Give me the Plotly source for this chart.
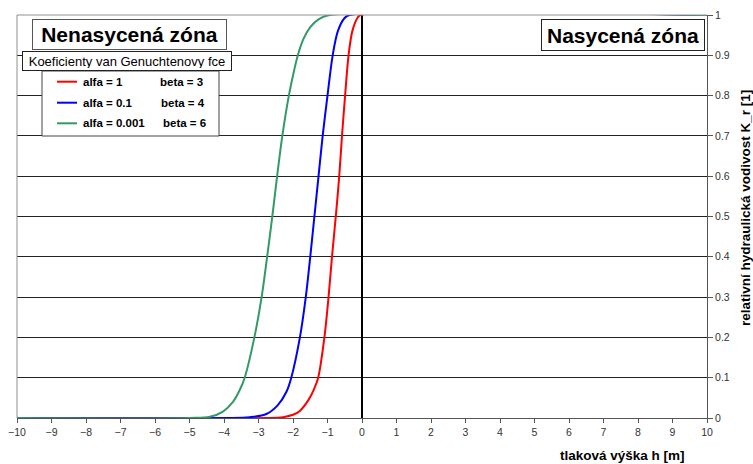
import plotly.graph_objects as go

# ---- data ----
h_red = [-10, -2.8, -2.29, -2.0, -1.81, -1.55, -1.40, -1.27, -1.09, -0.97, -0.87, -0.76,
         -0.66, -0.58, -0.49, -0.39, -0.28, -0.13, -0.05, 10]
k_red = [0, 0, 0.002, 0.008, 0.017, 0.045, 0.07, 0.1, 0.2, 0.3, 0.4, 0.5,
         0.6, 0.7, 0.8, 0.9, 0.96, 0.993, 1, 1]

h_blue = [-10, -4.0, -3.25, -2.77, -2.44, -2.19, -2.05, -1.80, -1.63, -1.50, -1.38, -1.26,
          -1.14, -1.00, -0.85, -0.70, -0.51, -0.36, 10]
k_blue = [0, 0, 0.002, 0.01, 0.032, 0.065, 0.1, 0.2, 0.3, 0.4, 0.5, 0.6,
          0.7, 0.8, 0.9, 0.96, 0.992, 1, 1]

h_green = [-10, -5.0, -4.41, -4.03, -3.74, -3.54, -3.40, -3.12, -2.91, -2.75, -2.60, -2.46,
           -2.31, -2.12, -2.00, -1.86, -1.70, -1.50, -1.25, -0.94, 10]
k_green = [0, 0, 0.003, 0.016, 0.04, 0.07, 0.1, 0.2, 0.3, 0.4, 0.5, 0.6,
           0.7, 0.8, 0.85, 0.9, 0.94, 0.97, 0.99, 1, 1]

alfa_labels = ["alfa = 1", "alfa = 0.1", "alfa = 0.001"]
beta_labels = ["beta = 3", "beta = 4", "beta = 6"]
colors = ["#ff0000", "#0000ff", "#339966"]

x_ticks = list(range(-10, 11))
y_ticks = [0, 0.1, 0.2, 0.3, 0.4, 0.5, 0.6, 0.7, 0.8, 0.9, 1]
y_ticktext = ["0", "0.1", "0.2", "0.3", "0.4", "0.5", "0.6", "0.7", "0.8", "0.9", "1"]

FONT = "Liberation Sans, Arial, sans-serif"

fig = go.Figure()
for h, k, n, c in zip([h_red, h_blue, h_green], [k_red, k_blue, k_green], alfa_labels, colors):
    fig.add_trace(go.Scatter(x=h, y=k, mode="lines", name=n, showlegend=False,
                             line=dict(color=c, width=2, shape="spline", smoothing=0.9)))

W, H = 753, 464
L, R, T, B = 17, 46, 15, 46
pw, ph = W - L - R, H - T - B


def px(xp):
    return (xp - L) / pw


def py(yp):
    return (H - B - yp) / ph


shapes = [
    dict(type="line", xref="paper", yref="paper", x0=0, x1=1, y0=1, y1=1,
         line=dict(color="#909090", width=1)),
    dict(type="line", xref="paper", yref="paper", x0=0, x1=0, y0=0, y1=1,
         line=dict(color="#909090", width=1)),
    # legend frame
    dict(type="rect", xref="paper", yref="paper", x0=px(42), x1=px(219), y0=py(136), y1=py(71),
         fillcolor="white", line=dict(color="#444444", width=1), layer="above"),
]
annotations = [
    dict(xref="paper", yref="paper", x=px(32), y=py(19), xanchor="left", yanchor="top",
         text="<b>Nenasycená zóna</b>", showarrow=False,
         font=dict(family=FONT, size=21, color="#000000"),
         bgcolor="white", bordercolor="#555555", borderwidth=1, borderpad=3,
         width=187, height=23),
    dict(xref="paper", yref="paper", x=px(22), y=py(51), xanchor="left", yanchor="top",
         text="Koeficienty van Genuchtenovy fce", showarrow=False,
         font=dict(family=FONT, size=13, color="#000000"),
         bgcolor="white", bordercolor="#222222", borderwidth=1, borderpad=2,
         width=204, height=14),
    dict(xref="paper", yref="paper", x=px(541), y=py(19), xanchor="left", yanchor="top",
         text="<b>Nasycená zóna</b>", showarrow=False,
         font=dict(family=FONT, size=21, color="#000000"),
         bgcolor="white", bordercolor="#222222", borderwidth=1, borderpad=3,
         width=156, height=24),
    dict(xref="paper", yref="paper", x=px(622), y=py(455), xanchor="center", yanchor="middle",
         text="<b>tlaková výška h [m]</b>", showarrow=False,
         font=dict(family=FONT, size=13.5, color="#000000")),
    dict(xref="paper", yref="paper", x=px(745), y=py(208), xanchor="center", yanchor="middle",
         text="<b>relativní hydraulická vodivost K_r [1]</b>", showarrow=False,
         textangle=-90, font=dict(family=FONT, size=13.5, color="#000000")),
]

# manual legend entries
row_y = [81.7, 102.7, 123.3]
beta_x = [158, 159, 161]
for ry, bx, a, b, c in zip(row_y, beta_x, alfa_labels, beta_labels, colors):
    shapes.append(dict(type="line", xref="paper", yref="paper", x0=px(57), x1=px(77),
                       y0=py(ry), y1=py(ry), line=dict(color=c, width=2), layer="above"))
    annotations.append(dict(xref="paper", yref="paper", x=px(81), y=py(ry), xanchor="left",
                            yanchor="middle", text="<b>" + a + "</b>", showarrow=False,
                            font=dict(family=FONT, size=11.5, color="#000000")))
    annotations.append(dict(xref="paper", yref="paper", x=px(bx), y=py(ry), xanchor="left",
                            yanchor="middle", text="<b>" + b + "</b>", showarrow=False,
                            font=dict(family=FONT, size=11.5, color="#000000")))

fig.update_layout(
    width=W, height=H,
    margin=dict(l=L, r=R, t=T, b=B, autoexpand=False),
    paper_bgcolor="white", plot_bgcolor="white",
    font=dict(family=FONT, size=10.5, color="#333333"),
    showlegend=False,
    xaxis=dict(range=[-10, 10], tickvals=x_ticks, ticks="outside", ticklen=4,
               tickcolor="#555555", showgrid=False, showline=True,
               linecolor="#555555", linewidth=1, automargin=False,
               zeroline=True, zerolinecolor="#000000", zerolinewidth=2,
               tickfont=dict(size=10.5, color="#333333")),
    yaxis=dict(range=[0, 1], side="right", tickvals=y_ticks, ticktext=y_ticktext,
               ticks="outside", ticklen=5, tickcolor="#555555",
               showgrid=True, gridcolor="#222222", gridwidth=1, automargin=False,
               showline=True, linecolor="#555555", linewidth=1,
               zeroline=False, tickfont=dict(size=10.5, color="#333333")),
    shapes=shapes,
    annotations=annotations,
)

fig.write_html("out.html", config={"displayModeBar": False},
               post_script="document.body.style.margin='0';document.body.style.overflow='hidden';")
